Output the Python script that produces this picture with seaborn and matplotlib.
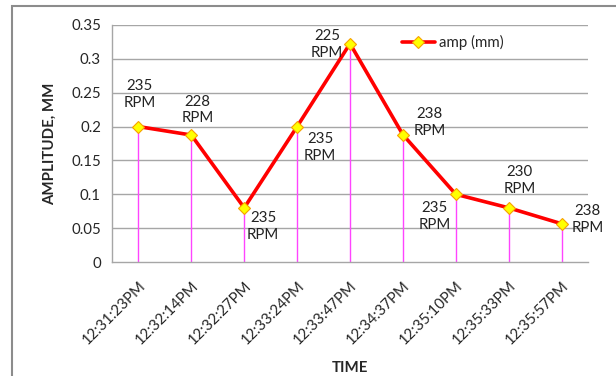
import numpy as np
import pandas as pd
import matplotlib
matplotlib.use("Agg")
import matplotlib.pyplot as plt
import seaborn as sns
from matplotlib.patches import Rectangle
from matplotlib.lines import Line2D

times = ["12:31:23PM", "12:32:14PM", "12:32:27PM", "12:33:24PM", "12:33:47PM",
         "12:34:37PM", "12:35:10PM", "12:35:33PM", "12:35:57PM"]
amp = [0.2, 0.1875, 0.08, 0.2, 0.3225, 0.188, 0.1, 0.08, 0.0565]
rpm = ["235", "228", "235", "235", "225", "238", "235", "230", "238"]
yticks = [0, 0.05, 0.1, 0.15, 0.2, 0.25, 0.3, 0.35]
ytick_labels = ["0", "0.05", "0.1", "0.15", "0.2", "0.25", "0.3", "0.35"]
# label offsets in pixels (dx, dy up)
label_offsets = [(1, 32), (6, 25), (19, -19), (23, -21), (-23, -1),
                 (27, 12), (-21, -22), (11, 27), (26, 4)]

sns.set_style("white")
plt.rcParams['font.family'] = ['Lato', 'DejaVu Sans']

fig = plt.figure(figsize=(6.16, 3.76), dpi=100)
ax = fig.add_axes([112/616, 1 - 262/376, 476/616, 237/376])

x = np.arange(len(times))
df = pd.DataFrame({"x": x, "amp": amp})

grid_c = "#A6A6A6"
for yt in yticks[1:]:
    ax.axhline(yt, color=grid_c, lw=1, zorder=0)

ax.vlines(x, 0, amp, color="#FF44FF", lw=1, zorder=1)

sns.lineplot(data=df, x="x", y="amp", ax=ax, color="#FF0000", lw=2.6,
             marker="D", markersize=6.5, markerfacecolor="#FFFF00",
             markeredgecolor="#F7A000", markeredgewidth=0.8, zorder=3)

for i, (xi, yi) in enumerate(zip(x, amp)):
    dx, dy = label_offsets[i]
    ax.annotate(f"{rpm[i]}\nRPM", (xi, yi), xytext=(dx, dy), textcoords="offset pixels",
                ha="center", va="center", fontsize=10.8, color="#222222",
                linespacing=1.25, zorder=4)

ax.set_xlim(-0.5, len(times) - 0.5)
ax.set_ylim(0, 0.35)
ax.set_yticks(yticks)
ax.set_yticklabels(ytick_labels, fontsize=10.8)
ax.set_xticks(x)
ax.set_xticklabels(times, rotation=45, ha="right", rotation_mode="anchor", fontsize=10.8)
ax.tick_params(axis="y", length=5, color=grid_c, width=1, pad=3)
ax.tick_params(axis="x", length=0, pad=12)

for s in ["top", "right"]:
    ax.spines[s].set_visible(False)
for s in ["left", "bottom"]:
    ax.spines[s].set_color(grid_c)
    ax.spines[s].set_linewidth(1)

ax.set_xlabel("TIME", fontsize=10.8, fontweight="bold", labelpad=10)
ax.set_ylabel("AMPLITUDE, MM", fontsize=10.8, fontweight="bold", labelpad=10)

handle = Line2D([], [], color="#FF0000", lw=2.6, marker="D", markersize=6.5,
                markerfacecolor="#FFFF00", markeredgecolor="#F7A000", markeredgewidth=0.8)
ax.legend([handle], ["amp (mm)"], loc="upper left", bbox_to_anchor=(0.58, 1.015),
          frameon=False, fontsize=10.8, handlelength=2.2, handletextpad=0.3)

fig.patches.append(Rectangle((12/616, -0.1), 1.0, 1 - 6/376 + 0.1, transform=fig.transFigure,
                             fill=False, edgecolor="#8C8C8C", lw=1.5, zorder=-1))

fig.savefig("out.png", dpi=100)
